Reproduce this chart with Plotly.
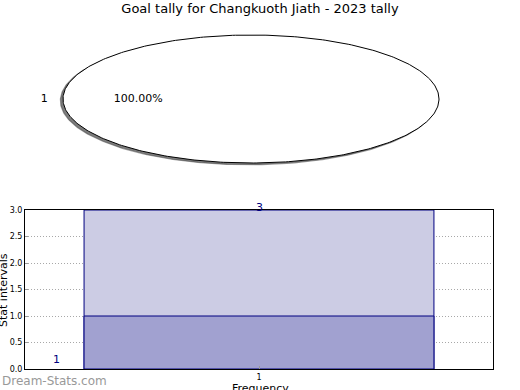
import numpy as np
import plotly.graph_objects as go

# ---- data ----
title_text = "Goal tally for Changkuoth Jiath - 2023 tally"
pie_labels = ["1"]
pie_values = [1]
bar_x = [1]
bar_total = [3]
bar_inner = [1]
x_tick_labels = ["1"]
y_tick_vals = [0.0, 0.5, 1.0, 1.5, 2.0, 2.5, 3.0]

fig = go.Figure()

# ---- pie (elliptical, drawn from slice fractions) ----
total = sum(pie_values)
start = 0.0
for lab, v in zip(pie_labels, pie_values):
    frac = v / total
    th = np.linspace(start, start + 2 * np.pi * frac, 400)
    if frac < 1:
        xs = np.concatenate([[0], np.cos(th), [0]])
        ys = np.concatenate([[0], np.sin(th), [0]])
    else:
        xs, ys = np.cos(th), np.sin(th)
    # shadow
    fig.add_trace(go.Scatter(x=xs - 0.014, y=ys - 0.028, mode="lines", fill="toself",
                             fillcolor="rgba(70,70,70,0.7)",
                             line=dict(color="rgba(70,70,70,0.5)", width=1.2),
                             xaxis="x2", yaxis="y2", hoverinfo="skip", showlegend=False))
    fig.add_trace(go.Scatter(x=xs, y=ys, mode="lines", fill="toself", fillcolor="white",
                             line=dict(color="black", width=1),
                             xaxis="x2", yaxis="y2", hoverinfo="skip", showlegend=False))
    mid = start + np.pi * frac
    fig.add_trace(go.Scatter(x=[1.1 * np.cos(mid), 0.6 * np.cos(mid)],
                             y=[1.1 * np.sin(mid), 0.6 * np.sin(mid)],
                             mode="text", text=[lab, f"{frac*100:.2f}%"],
                             textfont=dict(family="DejaVu Sans", size=11, color="black"),
                             textposition="middle center",
                             xaxis="x2", yaxis="y2", hoverinfo="skip", showlegend=False))
    start += 2 * np.pi * frac

# ---- bars ----
fig.add_trace(go.Bar(x=bar_x, y=bar_total, width=0.8, marker=dict(color="rgb(204,204,228)",
                     line=dict(color="#000080", width=1)), showlegend=False))
fig.add_trace(go.Bar(x=bar_x, y=bar_inner, width=0.8, marker=dict(color="rgb(161,161,208)",
                     line=dict(color="#000080", width=1)), showlegend=False))

fig.add_annotation(x=bar_x[0], y=bar_total[0], xref="x", yref="y", text=str(bar_total[0]),
                   showarrow=False, yanchor="middle", yshift=3,
                   font=dict(family="DejaVu Sans", size=11, color="#000080"))
fig.add_annotation(x=0.536, y=0.17, xref="x", yref="y", text=str(bar_inner[0]), showarrow=False,
                   font=dict(family="DejaVu Sans", size=11, color="#000080"))

grid_dash = "1px,2px"
fig.update_layout(
    width=520, height=390, margin=dict(l=0, r=0, t=0, b=0, autoexpand=False),
    paper_bgcolor="white", plot_bgcolor="white", barmode="overlay",
    font=dict(family="DejaVu Sans", color="black"),
    title=dict(text=title_text, x=0.5, xanchor="center", y=1 - 8 / 390, yanchor="middle",
               font=dict(family="DejaVu Sans", size=13, color="black")),
    xaxis=dict(domain=[25 / 520, 493 / 520], range=[0.465, 1.535], tickvals=bar_x,
               ticktext=x_tick_labels, showgrid=True, gridcolor="#a8a8a8", griddash=grid_dash,
               gridwidth=1, showline=True, linecolor="black", linewidth=1, mirror=True,
               ticks="inside", ticklen=3, tickcolor="#999", zeroline=False, automargin=False,
               tickfont=dict(size=8, family="DejaVu Sans")),
    yaxis=dict(domain=[21 / 390, 180 / 390], range=[0, 3], tickvals=y_tick_vals,
               ticktext=[f"{v:.1f}" for v in y_tick_vals], showgrid=True, gridcolor="#a8a8a8",
               griddash=grid_dash, gridwidth=1, showline=True, linecolor="black", linewidth=1,
               mirror=True, ticks="inside", ticklen=3, tickcolor="#999", zeroline=False,
               automargin=False, tickfont=dict(size=8, family="DejaVu Sans")),
    xaxis2=dict(domain=[0, 1], range=[-251 / 188, 269 / 188], visible=False, anchor="y2",
                automargin=False),
    yaxis2=dict(domain=[0.5, 1], range=[-96 / 64, 99 / 64], visible=False, anchor="x2",
                automargin=False),
)

fig.add_annotation(x=3 / 520, y=100 / 390, xref="paper", yref="paper", text="Stat intervals",
                   textangle=-90, showarrow=False, font=dict(size=11, family="DejaVu Sans"),
                   xanchor="center", yanchor="middle")
fig.add_annotation(x=260 / 520, y=1.5 / 390, xref="paper", yref="paper", text="Frequency",
                   showarrow=False, font=dict(size=11, family="DejaVu Sans"),
                   xanchor="center", yanchor="middle")
fig.add_annotation(x=0, y=9 / 390, xref="paper", yref="paper", text="Dream-Stats.com",
                   showarrow=False, font=dict(size=12, family="DejaVu Sans", color="#999"),
                   xanchor="left", yanchor="middle")

fig.write_html("out.html")
